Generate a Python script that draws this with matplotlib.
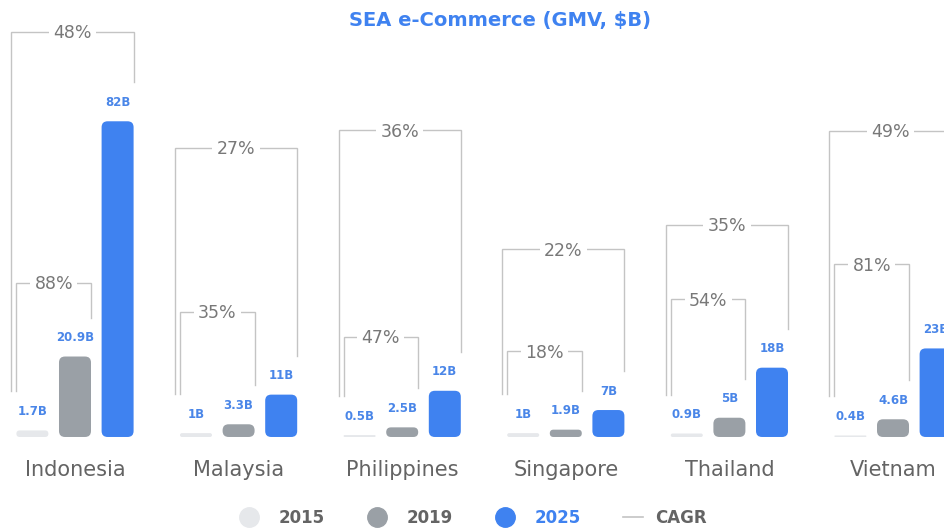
import matplotlib
matplotlib.use("Agg")
import matplotlib.pyplot as plt
from matplotlib.patches import FancyBboxPatch
from matplotlib.lines import Line2D

# GMV per market, $B
countries = ["Indonesia", "Malaysia", "Philippines", "Singapore", "Thailand", "Vietnam"]
years = ["2015", "2019", "2025"]
gmv_2015 = [1.7, 1.0, 0.5, 1.0, 0.9, 0.4]
gmv_2019 = [20.9, 3.3, 2.5, 1.9, 5.0, 4.6]
gmv_2025 = [82, 11, 12, 7, 18, 23]

# CAGR (%) for 2015->2019 and 2015->2025
cagr_2015_2019 = [88, 35, 47, 18, 54, 81]
cagr_2015_2025 = [48, 27, 36, 22, 35, 49]

# bracket heights (in $B units) -- layout only
inner_bracket_top = [40.0, 32.5, 26.0, 22.3, 35.8, 44.9]
outer_bracket_top = [105.2, 75.1, 79.7, 48.8, 55.1, 79.5]

C_2015 = "#e6e8eb"
C_2019 = "#9aa0a6"
C_2025 = "#3f82f0"
C_LABEL = "#4a86e8"
C_BRACKET = "#c4c4c4"
C_PCT = "#787878"
C_TEXT = "#646464"

W, H = 944, 532
XLIM = (-0.4584, 5.3117)
YLIM = (-24.68, 113.5)
BAR_W = 0.1956
BAR_OFF = 0.2604

fig = plt.figure(figsize=(W / 100, H / 100), dpi=100)
ax = fig.add_axes([0, 0, 1, 1])
ax.set_xlim(*XLIM)
ax.set_ylim(*YLIM)
ax.axis("off")

sx = W / (XLIM[1] - XLIM[0])   # px per x unit
sy = H / (YLIM[1] - YLIM[0])   # px per $B


def rounded_bar(xc, h, color, radius_px=6):
    r_px = min(radius_px, h * sy / 2, BAR_W * sx / 2)
    patch = FancyBboxPatch((xc - BAR_W / 2, 0), BAR_W, h,
                           boxstyle=f"round,pad=0,rounding_size={r_px / sx}",
                           mutation_aspect=sx / sy, fc=color, ec="none",
                           zorder=2)
    ax.add_patch(patch)


def value_label(xc, h):
    ax.annotate(f"{h:g}B", xy=(xc, h), xytext=(0, 15.5),
                textcoords="offset pixels", ha="center", va="baseline",
                fontsize=8.5, fontweight="bold", color=C_LABEL, zorder=4)


def bracket(xl, xr, yl, yr, top, pct):
    ax.plot([xl, xl, xr, xr], [yl, top, top, yr], color=C_BRACKET,
            lw=1.0, solid_joinstyle="miter", zorder=1)
    ax.annotate(f"{pct}%", xy=((xl + xr) / 2, top), xytext=(0, -6.5),
                textcoords="offset pixels", ha="center", va="baseline",
                fontsize=12.5, color=C_PCT, zorder=3,
                bbox=dict(boxstyle="square,pad=0.25", fc="white", ec="none"))


leg_gap = 39 / sy
for i, name in enumerate(countries):
    x15, x19, x25 = i - BAR_OFF, i, i + BAR_OFF
    for xc, h, c in [(x15, gmv_2015[i], C_2015),
                     (x19, gmv_2019[i], C_2019),
                     (x25, gmv_2025[i], C_2025)]:
        rounded_bar(xc, h, c)
        value_label(xc, h)

    left = x15 - BAR_W / 2
    bracket(left, x19 + BAR_W / 2, gmv_2015[i] + leg_gap,
            gmv_2019[i] + leg_gap, inner_bracket_top[i], cagr_2015_2019[i])
    bracket(left - 5 / sx, x25 + BAR_W / 2, gmv_2015[i] + leg_gap,
            gmv_2025[i] + leg_gap, outer_bracket_top[i], cagr_2015_2025[i])

    ax.annotate(name, xy=(x19, 0), xytext=(0, -39), textcoords="offset pixels",
                ha="center", va="baseline", fontsize=15, color=C_TEXT)

fig.text(500 / W, 1 - 26 / H, "SEA e-Commerce (GMV, $B)", ha="center",
         va="baseline", fontsize=14, fontweight="bold", color=C_2025)

# legend row
ly = 1 - 517 / H
tb = 1 - 523 / H
for px, year, c, tc in [(249, years[0], C_2015, C_TEXT),
                        (377, years[1], C_2019, C_TEXT),
                        (505, years[2], C_2025, C_2025)]:
    fig.add_artist(Line2D([px / W], [ly], marker="o", markersize=14,
                          color=c, transform=fig.transFigure))
    fig.text((px + 30) / W, tb, year, ha="left", va="baseline",
             fontsize=12, fontweight="bold", color=tc)
fig.add_artist(Line2D([623 / W, 643 / W], [ly, ly], color=C_BRACKET, lw=1.2,
                      transform=fig.transFigure))
fig.text(655 / W, tb, "CAGR", ha="left", va="baseline", fontsize=12,
         fontweight="bold", color=C_TEXT)

fig.savefig("out.png", dpi=100, facecolor="white")
